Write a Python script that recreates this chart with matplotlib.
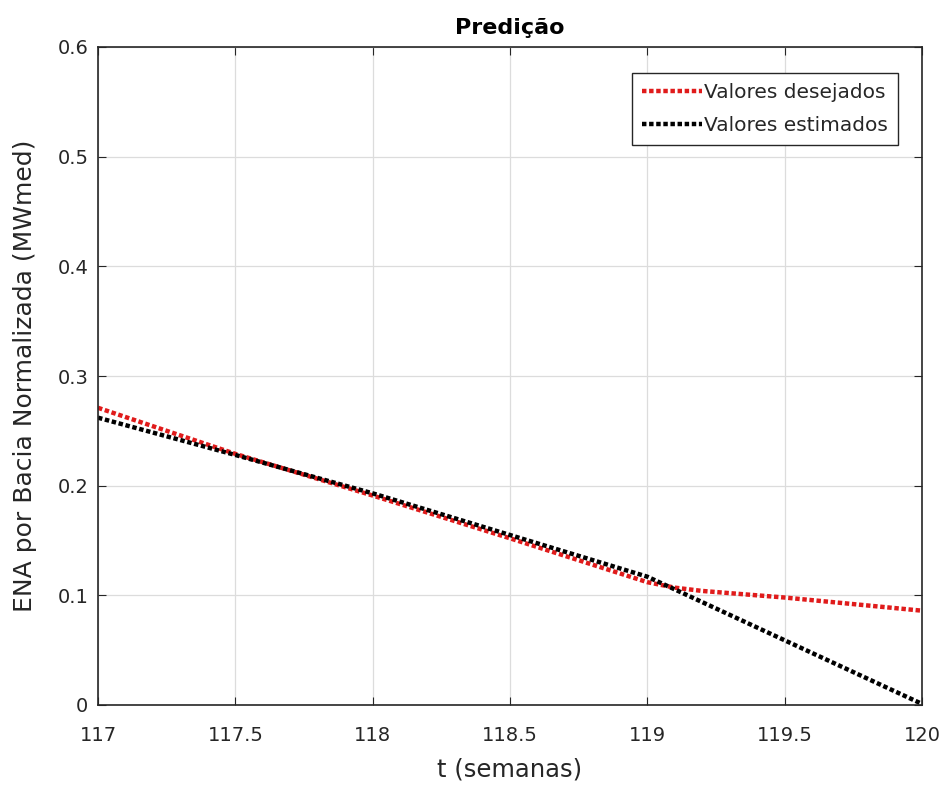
import matplotlib
matplotlib.use("Agg")
import matplotlib.pyplot as plt

t_des = [117, 117.5, 118, 118.5, 119, 119.1, 119.2, 119.5, 120]
desejados = [0.271, 0.229, 0.191, 0.152, 0.112, 0.107, 0.104, 0.098, 0.086]
t_est = [117, 117.5, 118, 118.5, 119, 119.5, 120]
estimados = [0.262, 0.228, 0.193, 0.155, 0.117, 0.059, 0.001]

xticks = [117, 117.5, 118, 118.5, 119, 119.5, 120]
xticklabels = ["117", "117.5", "118", "118.5", "119", "119.5", "120"]
yticks = [0, 0.1, 0.2, 0.3, 0.4, 0.5, 0.6]
yticklabels = ["0", "0.1", "0.2", "0.3", "0.4", "0.5", "0.6"]

plt.rcParams['font.family'] = ['DejaVu Sans']
fig = plt.figure(figsize=(9.5, 7.89), dpi=100)
ax = fig.add_axes([98/950, 1-705/789, (922-98)/950, (705-47)/789])

ax.plot(t_des, desejados, color='#e01b1b', linestyle=(0, (1, 0.6)), linewidth=3.2, label='Valores desejados')
ax.plot(t_est, estimados, color='black', linestyle=(0, (1, 0.6)), linewidth=3.2, label='Valores estimados')

ax.set_xlim(117, 120)
ax.set_ylim(0, 0.6)
ax.set_xticks(xticks)
ax.set_xticklabels(xticklabels)
ax.set_yticks(yticks)
ax.set_yticklabels(yticklabels)
ax.grid(True, color='#dcdcdc', linewidth=0.9)
ax.set_axisbelow(True)
for s in ax.spines.values():
    s.set_color('#262626')
    s.set_linewidth(1.2)
ax.tick_params(direction='in', length=6, labelsize=14, colors='#262626', top=True, right=True)
ax.tick_params(axis='x', pad=15)
ax.tick_params(axis='y', pad=7)
ax.set_xlabel('t (semanas)', fontsize=17.5, color='#262626', va='top')
ax.xaxis.set_label_coords(0.5, (705-758)/658)
ax.set_ylabel('ENA por Bacia Normalizada (MWmed)', fontsize=18, color='#262626')
ax.yaxis.set_label_coords((37-98)/824, 0.5)
ax.set_title('Predição', fontsize=16, fontweight='bold', pad=9)
leg = ax.legend(loc='upper right', fontsize=14.5, handlelength=3.0, handletextpad=0.1,
                bbox_to_anchor=(1-(922-898)/824, 1-(73-47)/658), borderaxespad=0.0,
                fancybox=False, framealpha=1, edgecolor='#262626',
                labelspacing=0.7, borderpad=0.5)
leg.get_frame().set_linewidth(1.0)
for txt in leg.get_texts():
    txt.set_color('#262626')

fig.savefig('out.png', dpi=100)
